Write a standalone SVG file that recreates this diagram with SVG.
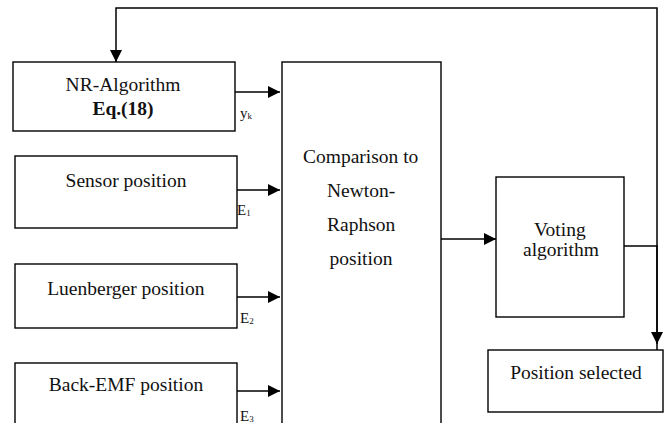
<svg xmlns="http://www.w3.org/2000/svg" width="669" height="423" viewBox="0 0 669 423">
<defs>
<marker id="ah" viewBox="0 0 12 12" refX="12" refY="6" markerWidth="12" markerHeight="12" markerUnits="userSpaceOnUse" orient="auto">
<path d="M0,0 L12,6 L0,12 Z" fill="#000"/>
</marker>
</defs>
<rect width="669" height="423" fill="#fff"/>
<g id="connectors" fill="none" stroke="#000" stroke-width="1.5">
<path d="M657,350 V8 H116 V62" marker-end="url(#ah)"/>
<path d="M624,246 H657 V344" marker-end="url(#ah)"/>
<path d="M235,92 H280" marker-end="url(#ah)"/>
<path d="M237,190 H280" marker-end="url(#ah)"/>
<path d="M237,297 H280" marker-end="url(#ah)"/>
<path d="M237,391 H280" marker-end="url(#ah)"/>
<path d="M441,239 H496" marker-end="url(#ah)"/>
</g>
<g id="nr">
<rect x="13" y="62" width="222" height="69" fill="#fff" stroke="#000" stroke-width="1.4"/>
<text font-family="Liberation Serif" font-size="19.5" fill="#111" x="65.6" y="91">NR-Algorithm</text>
<text font-family="Liberation Serif" font-size="19.5" fill="#111" font-weight="bold" x="92.4" y="115">Eq.(18)</text>
<text font-family="Liberation Serif" font-size="15" fill="#111" x="240" y="118">y<tspan font-size="9" dy="1">k</tspan></text>
</g>
<g id="sensor">
<rect x="15" y="156" width="222" height="72" fill="#fff" stroke="#000" stroke-width="1.4"/>
<text font-family="Liberation Serif" font-size="19.5" fill="#111" x="65.6" y="187">Sensor position</text>
<text font-family="Liberation Serif" font-size="15" fill="#111" x="237" y="215">E<tspan font-size="9" dy="1">1</tspan></text>
</g>
<g id="luenberger">
<rect x="15" y="264" width="222" height="64" fill="#fff" stroke="#000" stroke-width="1.4"/>
<text font-family="Liberation Serif" font-size="19.5" fill="#111" x="47.2" y="295">Luenberger position</text>
<text font-family="Liberation Serif" font-size="15" fill="#111" x="240" y="323">E<tspan font-size="9" dy="1">2</tspan></text>
</g>
<g id="backemf">
<rect x="15" y="363" width="222" height="70" fill="#fff" stroke="#000" stroke-width="1.4"/>
<text font-family="Liberation Serif" font-size="19.5" fill="#111" x="48.8" y="391">Back-EMF position</text>
<text font-family="Liberation Serif" font-size="15" fill="#111" x="240" y="421">E<tspan font-size="9" dy="1">3</tspan></text>
</g>
<g id="comparison">
<rect x="282" y="62" width="159" height="380" fill="#fff" stroke="#000" stroke-width="1.4"/>
<text font-family="Liberation Serif" font-size="19.5" fill="#111" x="303" y="163">Comparison to</text>
<text font-family="Liberation Serif" font-size="19.5" fill="#111" x="327" y="197">Newton-</text>
<text font-family="Liberation Serif" font-size="19.5" fill="#111" x="327" y="231">Raphson</text>
<text font-family="Liberation Serif" font-size="19.5" fill="#111" x="329.6" y="265">position</text>
</g>
<g id="voting">
<rect x="496" y="177" width="128" height="140" fill="#fff" stroke="#000" stroke-width="1.4"/>
<text font-family="Liberation Serif" font-size="19.5" fill="#111" x="534" y="236">Voting</text>
<text font-family="Liberation Serif" font-size="19.5" fill="#111" x="523" y="256">algorithm</text>
</g>
<g id="selected">
<rect x="488" y="350" width="175" height="62" fill="#fff" stroke="#000" stroke-width="1.4"/>
<text font-family="Liberation Serif" font-size="19.5" fill="#111" x="510.2" y="379">Position selected</text>
</g>
</svg>
